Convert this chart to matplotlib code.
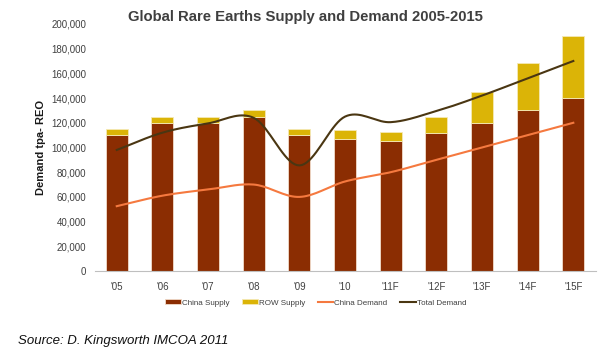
import numpy as np
import matplotlib
matplotlib.use("Agg")
from matplotlib import pyplot as plt

years = ["'05", "'06", "'07", "'08", "'09", "'10", "'11F", "'12F", "'13F", "'14F", "'15F"]
china_supply = [110000, 120000, 120000, 125000, 110000, 107000, 105000, 112000, 120000, 130000, 140000]
row_supply = [5000, 5000, 5000, 5000, 5000, 7000, 7500, 13000, 25000, 38000, 50000]
china_demand = [52500, 61000, 66000, 70000, 60000, 72500, 80000, 90000, 100000, 110000, 120000]
total_demand = [98000, 112000, 119500, 124000, 85500, 125000, 120500, 129500, 142000, 156000, 170000]


def smooth(x, y, n=20):
    # catmull-rom style curve like excel's "smoothed line"
    x = np.asarray(x, float)
    y = np.asarray(y, float)
    px = np.concatenate([[2 * x[0] - x[1]], x, [2 * x[-1] - x[-2]]])
    py = np.concatenate([[2 * y[0] - y[1]], y, [2 * y[-1] - y[-2]]])
    xs, ys = [], []
    t = np.linspace(0, 1, n)
    for i in range(1, len(px) - 2):
        for p, out in ((px, xs), (py, ys)):
            p0, p1, p2, p3 = p[i - 1], p[i], p[i + 1], p[i + 2]
            out.extend(0.5 * ((2 * p1) + (-p0 + p2) * t
                              + (2 * p0 - 5 * p1 + 4 * p2 - p3) * t ** 2
                              + (-p0 + 3 * p1 - 3 * p2 + p3) * t ** 3))
    return xs, ys


def main():
    plt.rcParams['font.family'] = ['Liberation Sans', 'DejaVu Sans']
    fig = plt.figure(figsize=(6.04, 3.52), dpi=100)
    ax = fig.add_axes([0.157, 0.230, 0.830, 0.702])

    x = np.arange(len(years))
    ax.bar(x, china_supply, width=0.48, color='#8B2D02', edgecolor='#F2DCCB',
           linewidth=0.6, label='China Supply', zorder=2)
    ax.bar(x, row_supply, width=0.48, bottom=china_supply, color='#DBB407',
           edgecolor='#F5E9B5', linewidth=0.6, label='ROW Supply', zorder=2)

    sx, sy = smooth(x, china_demand)
    ax.plot(sx, sy, color='#F5793F', lw=1.5, label='China Demand', zorder=3)
    sx, sy = smooth(x, total_demand)
    ax.plot(sx, sy, color='#4A3612', lw=1.5, label='Total Demand', zorder=3)

    ax.set_xlim(-0.48, 10.5)
    ax.set_ylim(0, 200000)
    ax.set_yticks(range(0, 200001, 20000))
    ax.set_yticklabels([f'{v:,}' for v in range(0, 200001, 20000)], fontsize=7, color='#404040')
    ax.set_xticks(x)
    ax.set_xticklabels(years, fontsize=7, color='#404040')
    ax.tick_params(length=0, pad=8)
    ax.tick_params(axis='y', pad=6)
    for s in ['top', 'right', 'left']:
        ax.spines[s].set_visible(False)
    ax.spines['bottom'].set_color('#BFBFBF')

    ax.set_ylabel('Demand tpa- REO', fontsize=8, fontweight='bold', color='#1A1A1A', labelpad=4)
    fig.text(0.506, 0.953, 'Global Rare Earths Supply and Demand 2005-2015', ha='center', va='center',
             fontsize=10.7, fontweight='bold', color='#3F3F3F')

    h, l = ax.get_legend_handles_labels()
    order = [2, 3, 0, 1]
    fig.legend([h[i] for i in order], [l[i] for i in order], loc='center',
               bbox_to_anchor=(0.523, 0.139), ncol=4, frameon=False, fontsize=5.8,
               handlelength=1.9, handleheight=0.5, handletextpad=0.15, columnspacing=1.6,
               labelcolor='#404040')
    fig.text(0.03, 0.022, 'Source: D. Kingsworth IMCOA 2011', fontsize=9.5, style='italic', color='#111111')

    fig.savefig('out.png', dpi=100)


if __name__ == "__main__":
    main()
